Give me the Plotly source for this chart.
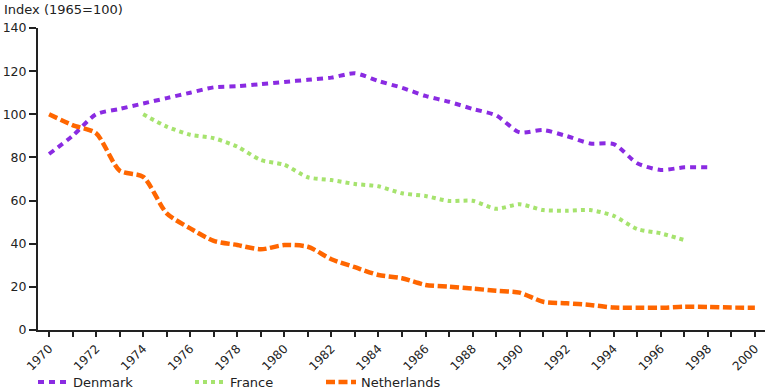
import plotly.graph_objects as go

years_dk = list(range(1970, 1999))
denmark = [81.6, 90, 100, 102.5, 105, 107.5, 110, 112.5, 113, 114, 115, 116, 117, 119,
           115.4, 112.3, 108.5, 105.8, 102.5, 99.5, 91.6, 92.7, 89.9, 86.5, 86.2, 77.3, 74.2, 75.4, 75.4]

years_fr = list(range(1974, 1998))
france = [100, 94.3, 90.5, 88.9, 85, 78.8, 76.6, 70.8, 69.5, 67.7, 66.6, 63.4, 62.1, 59.8,
          59.9, 56.2, 58.3, 55.6, 55.3, 55.6, 52.9, 46.8, 44.8, 41.7]

years_nl = list(range(1970, 2001))
netherlands = [100, 95, 91.2, 73.9, 71, 54.1, 47.1, 41.3, 39.4, 37.4, 39.4, 38.6, 32.8, 29.1,
               25.5, 24, 20.9, 20.1, 19.2, 18.2, 17.3, 13.1, 12.4, 11.6, 10.4, 10.3, 10.3,
               10.8, 10.7, 10.4, 10.3]

series_names = ["Denmark", "France", "Netherlands"]
colors = ["#8a2be2", "#a6e36e", "#ff6600"]

font = "DejaVu Sans"

fig = go.Figure()
fig.add_trace(go.Scatter(x=years_dk, y=denmark, name=series_names[0], mode="lines",
                         line=dict(color=colors[0], width=4, dash="6px,5px", shape="spline", smoothing=0.7),
                         legend="legend"))
fig.add_trace(go.Scatter(x=years_fr, y=france, name=series_names[1], mode="lines",
                         line=dict(color=colors[1], width=4, dash="4px,4px", shape="spline", smoothing=0.7),
                         legend="legend2"))
fig.add_trace(go.Scatter(x=years_nl, y=netherlands, name=series_names[2], mode="lines",
                         line=dict(color=colors[2], width=4.5, dash="9px,3.5px", shape="spline", smoothing=0.7),
                         legend="legend3"))

L, W = 38, 727

def lx(px):
    return (px - L) / W

leg_common = dict(orientation="h", yanchor="middle", y=-0.172, xanchor="left",
                  font=dict(family=font, size=13, color="#222"), bgcolor="rgba(0,0,0,0)")

fig.update_layout(
    width=768, height=390,
    margin=dict(l=L, r=768 - L - W, t=28, b=60, autoexpand=False),
    plot_bgcolor="white", paper_bgcolor="white",
    font=dict(family=font, size=12, color="#222"),
    showlegend=True,
    legend=dict(x=lx(33), **leg_common),
    legend2=dict(x=lx(190), **leg_common),
    legend3=dict(x=lx(321), **leg_common),
    xaxis=dict(range=[1969.53, 2000.43], tickmode="linear", tick0=1970, dtick=2,
               tickangle=-45, ticks="outside", ticklen=5, tickwidth=1.5, tickcolor="#222",
               showline=True, linecolor="#222", linewidth=2, showgrid=False, zeroline=False,
               automargin=False,
               tickfont=dict(family=font, size=12, color="#222"),
               minor=dict(dtick=1, tick0=1970, ticks="outside", ticklen=5, tickwidth=1.5, tickcolor="#222", showgrid=False)),
    yaxis=dict(range=[0, 140], tickmode="linear", tick0=0, dtick=20,
               ticks="outside", ticklen=7, tickwidth=1.5, tickcolor="#222",
               showline=True, linecolor="#222", linewidth=2, showgrid=False, zeroline=False,
               automargin=False,
               tickfont=dict(family=font, size=12.5, color="#222")),
    annotations=[dict(text="Index (1965=100)", xref="paper", yref="paper", x=0, y=1,
                      xanchor="left", yanchor="middle", xshift=-36, yshift=19, showarrow=False,
                      font=dict(family=font, size=13, color="#222"))],
)

fig.write_html("out.html", config={"displayModeBar": False},
               post_script="document.body.style.margin='0';document.body.style.overflow='hidden';")
